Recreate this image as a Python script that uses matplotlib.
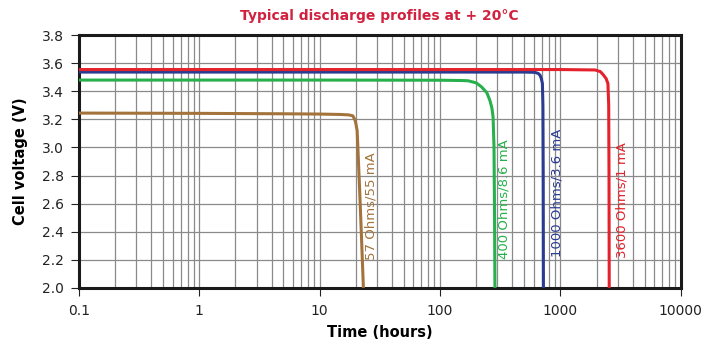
import matplotlib
matplotlib.use("Agg")
import matplotlib.pyplot as plt
from matplotlib.ticker import LogLocator, FixedLocator, NullFormatter

# ----------------------------
# Dados
# ----------------------------
t_57 = [0.1, 1, 5, 10, 15, 17.5, 18.9, 19.8, 20.5, 21.5, 22.3, 23.1]
v_57 = [3.245, 3.243, 3.24, 3.238, 3.235, 3.232, 3.225, 3.19, 3.12, 2.7, 2.35, 2.0]

t_400 = [0.1, 1, 10, 100, 150, 171, 200, 221, 245, 260, 270, 276, 281, 284, 286]
v_400 = [3.48, 3.48, 3.48, 3.479, 3.477, 3.475, 3.46, 3.432, 3.39, 3.334, 3.28, 3.218, 3.0, 2.5, 2.0]

t_1000 = [0.1, 1, 10, 100, 500, 615, 655, 677, 695, 709, 716, 720, 723]
v_1000 = [3.537, 3.537, 3.537, 3.537, 3.537, 3.535, 3.527, 3.515, 3.49, 3.455, 3.3, 2.8, 2.0]

t_3600 = [0.1, 1, 10, 100, 1000, 1945, 2150, 2285, 2400, 2483, 2520, 2535, 2545]
v_3600 = [3.555, 3.555, 3.555, 3.555, 3.555, 3.552, 3.54, 3.515, 3.49, 3.455, 3.3, 2.8, 2.0]

series = [
    (t_57, v_57, "#a3733b", "57 Ohms/55 mA", 26.5, 2.58),
    (t_400, v_400, "#27b04b", "400 Ohms/8.6 mA", 338, 2.635),
    (t_1000, v_1000, "#2a3b92", "1000 Ohms/3.6 mA", 933, 2.675),
    (t_3600, v_3600, "#e4222b", "3600 Ohms/1 mA", 3240, 2.625),
]

x_ticks = [0.1, 1, 10, 100, 1000, 10000]
x_labels = ["0.1", "1", "10", "100", "1000", "10000"]
y_ticks = [2.0, 2.2, 2.4, 2.6, 2.8, 3.0, 3.2, 3.4, 3.6, 3.8]

# ----------------------------
# Figura
# ----------------------------
fig = plt.figure(figsize=(7.04, 3.55), dpi=100)
ax = fig.add_axes([0.112, 0.189, 0.855, 0.712])

for t, v, cor, rotulo, tx, ty in series:
    ax.plot(t, v, color=cor, lw=2.2, solid_capstyle="butt", zorder=3)
    ax.text(tx, ty, rotulo, color=cor, rotation=90, ha="center", va="center",
            fontsize=9.5, zorder=4)

ax.set_xscale("log")
ax.set_xlim(0.1, 10000)
ax.set_ylim(2.0, 3.8)

ax.xaxis.set_major_locator(FixedLocator(x_ticks))
ax.set_xticklabels(x_labels)
ax.xaxis.set_minor_locator(LogLocator(base=10, subs=range(2, 10)))
ax.xaxis.set_minor_formatter(NullFormatter())
ax.set_yticks(y_ticks)
ax.set_yticklabels([f"{y:.1f}" for y in y_ticks])

ax.grid(which="major", axis="both", color="#8a8a8a", lw=0.9, zorder=1)
ax.grid(which="minor", axis="x", color="#8a8a8a", lw=0.9, zorder=1)

ax.tick_params(which="major", direction="out", length=5.5, width=0.8,
               labelsize=10, colors="#222222", pad=5)
ax.tick_params(which="minor", length=0)
ax.tick_params(axis="x", pad=6)

for s in ax.spines.values():
    s.set_linewidth(2.2)
    s.set_color("#1a1a1a")

ax.set_xlabel("Time (hours)", fontsize=10.5, fontweight="bold", labelpad=5)
ax.set_ylabel("Cell voltage (V)", fontsize=10.5, fontweight="bold", labelpad=10)
ax.set_title("Typical discharge profiles at + 20°C", color="#d2213f",
             fontsize=10, fontweight="bold", pad=11)

fig.savefig("out.png", dpi=100)
